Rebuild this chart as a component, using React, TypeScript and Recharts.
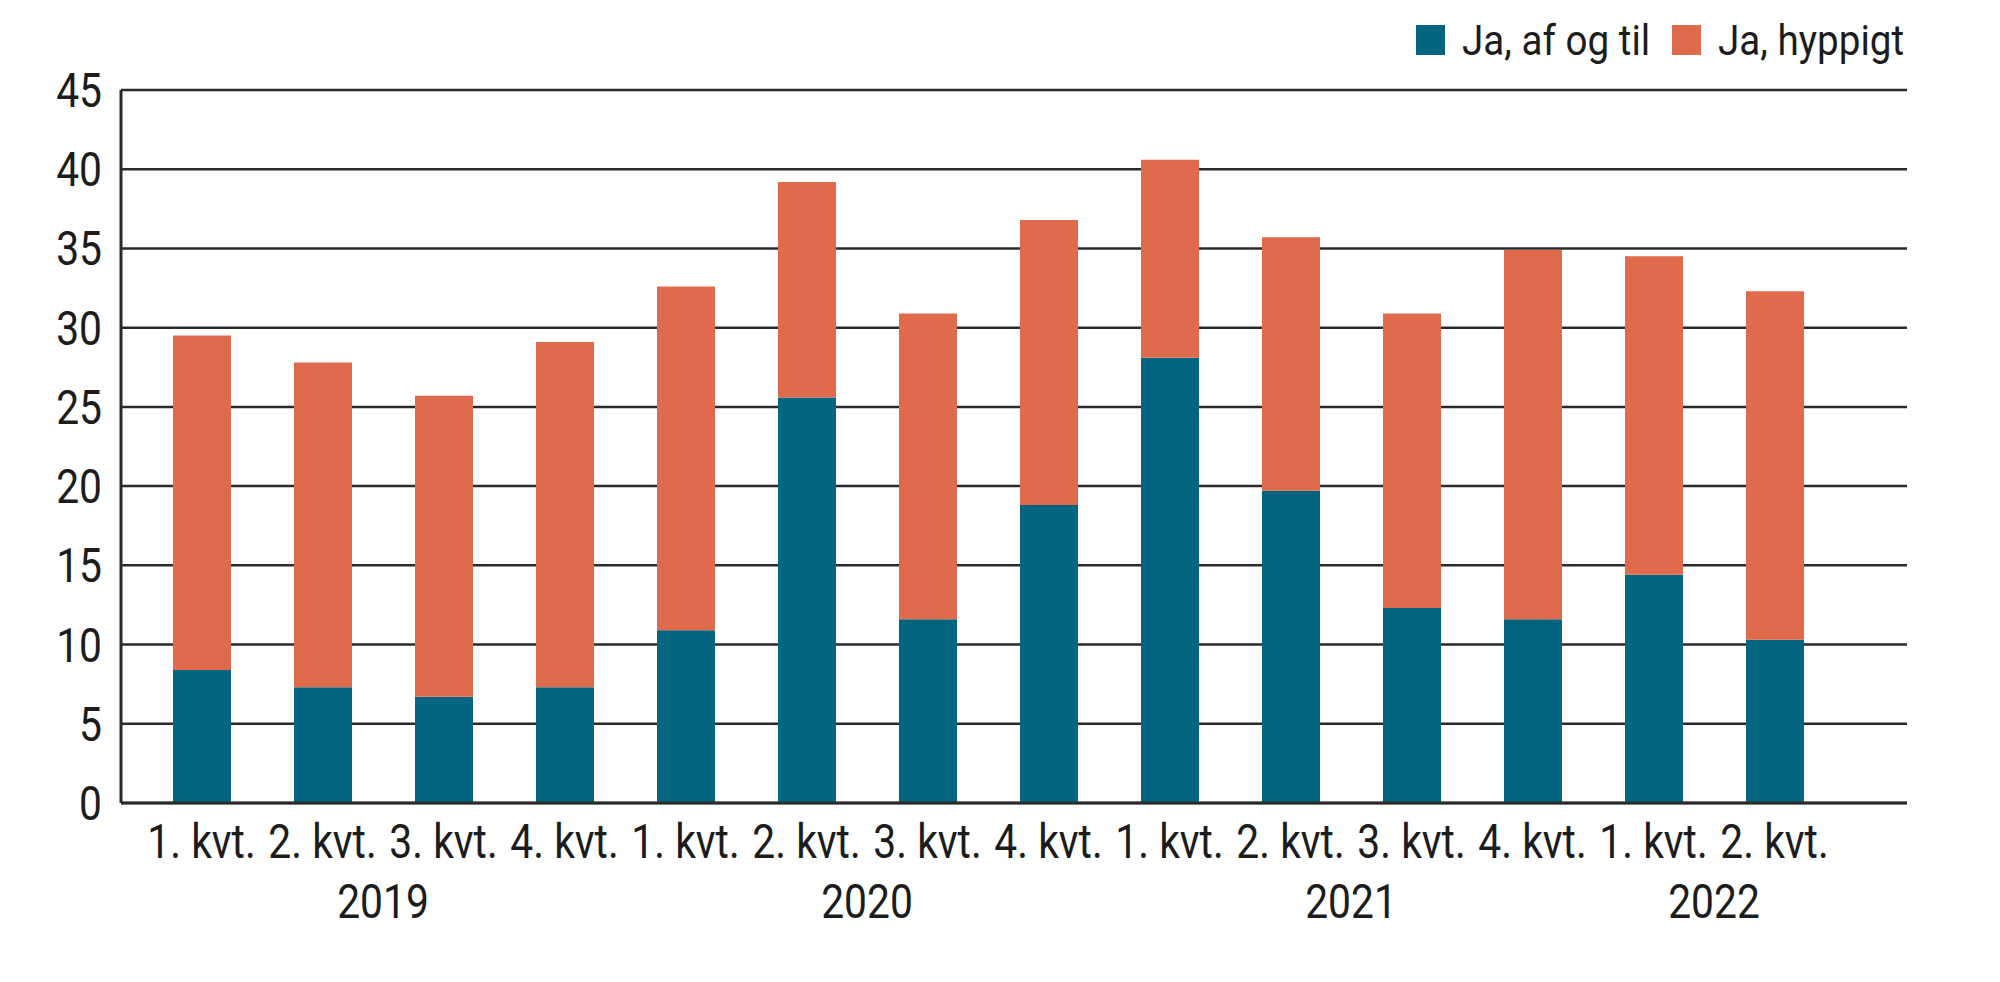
import React from 'react';
import { BarChart, Bar, XAxis, YAxis, CartesianGrid, Legend } from 'recharts';

const quarters = [
    '1. kvt.', '2. kvt.', '3. kvt.', '4. kvt.',
    '1. kvt.', '2. kvt.', '3. kvt.', '4. kvt.',
    '1. kvt.', '2. kvt.', '3. kvt.', '4. kvt.',
    '1. kvt.', '2. kvt.',
];
const years = [
    '2019', '2019', '2019', '2019',
    '2020', '2020', '2020', '2020',
    '2021', '2021', '2021', '2021',
    '2022', '2022',
];
const afOgTil = [8.4, 7.3, 6.7, 7.3, 10.9, 25.6, 11.6, 18.8, 28.1, 19.7, 12.3, 11.6, 14.4, 10.3];
const hyppigt = [21.1, 20.5, 19.0, 21.8, 21.7, 13.6, 19.3, 18.0, 12.5, 16.0, 18.6, 23.3, 20.1, 22.0];
const yTicks = [0, 5, 10, 15, 20, 25, 30, 35, 40, 45];

const rows = quarters.map((q, i) => ({
    id: i,
    quarter: q,
    year: years[i],
    afOgTil: afOgTil[i],
    hyppigt: hyppigt[i],
}));

const FONT = 'Roboto, "Noto Sans", sans-serif';
const INK = '#1c1c1c';
const LINE = '#2a2a2a';
const TEAL = '#03657f';
const ORANGE = '#e06a4c';
const SQUEEZE = 0.85;

const YTick = (props: any) => {
    const { x, y, payload } = props;
    return (
        <g transform={`translate(${x},${y}) scale(${SQUEEZE},1)`}>
            <text x={0} y={17} textAnchor="end" fontFamily={FONT} fontSize={48} fill={INK}>
                {payload.value}
            </text>
        </g>
    );
};

// quarter label under each bar, year label centred under its group
const QuarterTick = (props: any) => {
    const { x, y, payload, index } = props;
    const yr = years[index];
    const firstOfYear = index === 0 || years[index - 1] !== yr;
    const count = years.filter((v) => v === yr).length;
    const half = payload.offset || 60.5;
    const yearX = x + (count - 1) * half;
    return (
        <g>
            <g transform={`translate(${x},${y}) scale(${SQUEEZE},1)`}>
                <text x={0} y={55} textAnchor="middle" fontFamily={FONT} fontSize={48} fill={INK}>
                    {quarters[index]}
                </text>
            </g>
            {firstOfYear && (
                <g transform={`translate(${yearX},${y}) scale(${SQUEEZE},1)`}>
                    <text x={0} y={115} textAnchor="middle" fontFamily={FONT} fontSize={48} fill={INK}>
                        {yr}
                    </text>
                </g>
            )}
        </g>
    );
};

const legendPos = [16, 272];

const LegendBox = (props: any) => {
    const { payload } = props;
    return (
        <svg width={600} height={70} style={{ display: 'block', overflow: 'visible' }}>
            {(payload || []).map((entry: any, i: number) => (
                <g key={entry.value} transform={`translate(${legendPos[i]},0)`}>
                    <rect x={0} y={5} width={29} height={30} fill={entry.color} />
                    <g transform={`translate(46,35) scale(0.92,1)`}>
                        <text x={0} y={0} fontFamily={FONT} fontSize={42} fill={INK}>
                            {entry.value}
                        </text>
                    </g>
                </g>
            ))}
        </svg>
    );
};

export default function App() {
    return (
        <div style={{ width: 2000, height: 982, background: '#fff' }}>
            <style>{'body{margin:0}'}</style>
            <BarChart
                width={2000}
                height={982}
                data={rows}
                margin={{ top: 20, right: 93, bottom: 0, left: 0 }}
            >
                <CartesianGrid vertical={false} stroke={LINE} strokeWidth={2.5} />
                <XAxis
                    dataKey="quarter"
                    height={179}
                    padding={{ left: 20, right: 72 }}
                    tickLine={false}
                    tickSize={0}
                    tickMargin={0}
                    axisLine={{ stroke: LINE, strokeWidth: 3 }}
                    interval={0}
                    tick={<QuarterTick />}
                />
                <YAxis
                    width={121}
                    domain={[0, 45]}
                    ticks={yTicks}
                    tickLine={false}
                    tickSize={0}
                    tickMargin={19}
                    axisLine={{ stroke: LINE, strokeWidth: 3 }}
                    tick={<YTick />}
                />
                <Legend
                    verticalAlign="top"
                    align="right"
                    content={<LegendBox />}
                    wrapperStyle={{ position: 'absolute', top: 20, left: 1400, width: 600, height: 70 }}
                />
                <Bar dataKey="afOgTil" name="Ja, af og til" stackId="a" fill={TEAL} barSize={58} isAnimationActive={false} />
                <Bar dataKey="hyppigt" name="Ja, hyppigt" stackId="a" fill={ORANGE} barSize={58} isAnimationActive={false} />
            </BarChart>
        </div>
    );
}
